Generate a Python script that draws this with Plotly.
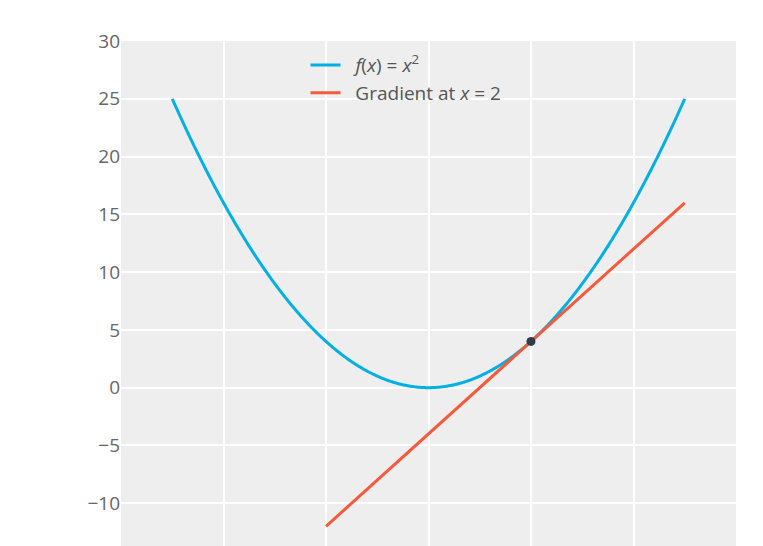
import numpy as np
import plotly.graph_objects as go

x_curve = np.linspace(-5, 5, 401)
y_curve = x_curve ** 2
x_tan = [-2, 5]
y_tan = [-12, 16]
pt_x = [2]
pt_y = [4]

fig = go.Figure()
fig.add_trace(go.Scatter(x=x_curve, y=y_curve, mode="lines",
                         line=dict(color="#00b0e0", width=3, shape="spline"),
                         name="  <i>f</i>(<i>x</i>) = <i>x</i><sup>2</sup>"))
fig.add_trace(go.Scatter(x=x_tan, y=y_tan, mode="lines",
                         line=dict(color="#f55a3c", width=3),
                         name="  Gradient at <i>x</i> = 2"))
fig.add_trace(go.Scatter(x=pt_x, y=pt_y, mode="markers",
                         marker=dict(color="#2e3d49", size=9),
                         showlegend=False))
fig.update_layout(
    width=763, height=600,
    margin=dict(l=113, r=35, t=33, b=47),
    paper_bgcolor="white", plot_bgcolor="#eeeeee",
    font=dict(family="Open Sans", size=19, color="#666666"),
    xaxis=dict(range=[-6, 6], tickvals=[-4, -2, 0, 2, 4], showticklabels=False,
               gridcolor="white", gridwidth=2, zeroline=False),
    yaxis=dict(range=[-15, 30], dtick=5, gridcolor="white", gridwidth=2,
               zeroline=False, tickfont=dict(size=19), ticks=""),
    legend=dict(x=0.3, y=0.99, xanchor="left", yanchor="top",
                bgcolor="rgba(0,0,0,0)", font=dict(size=19, color="#555555")),
)
fig.write_html("out.html")
